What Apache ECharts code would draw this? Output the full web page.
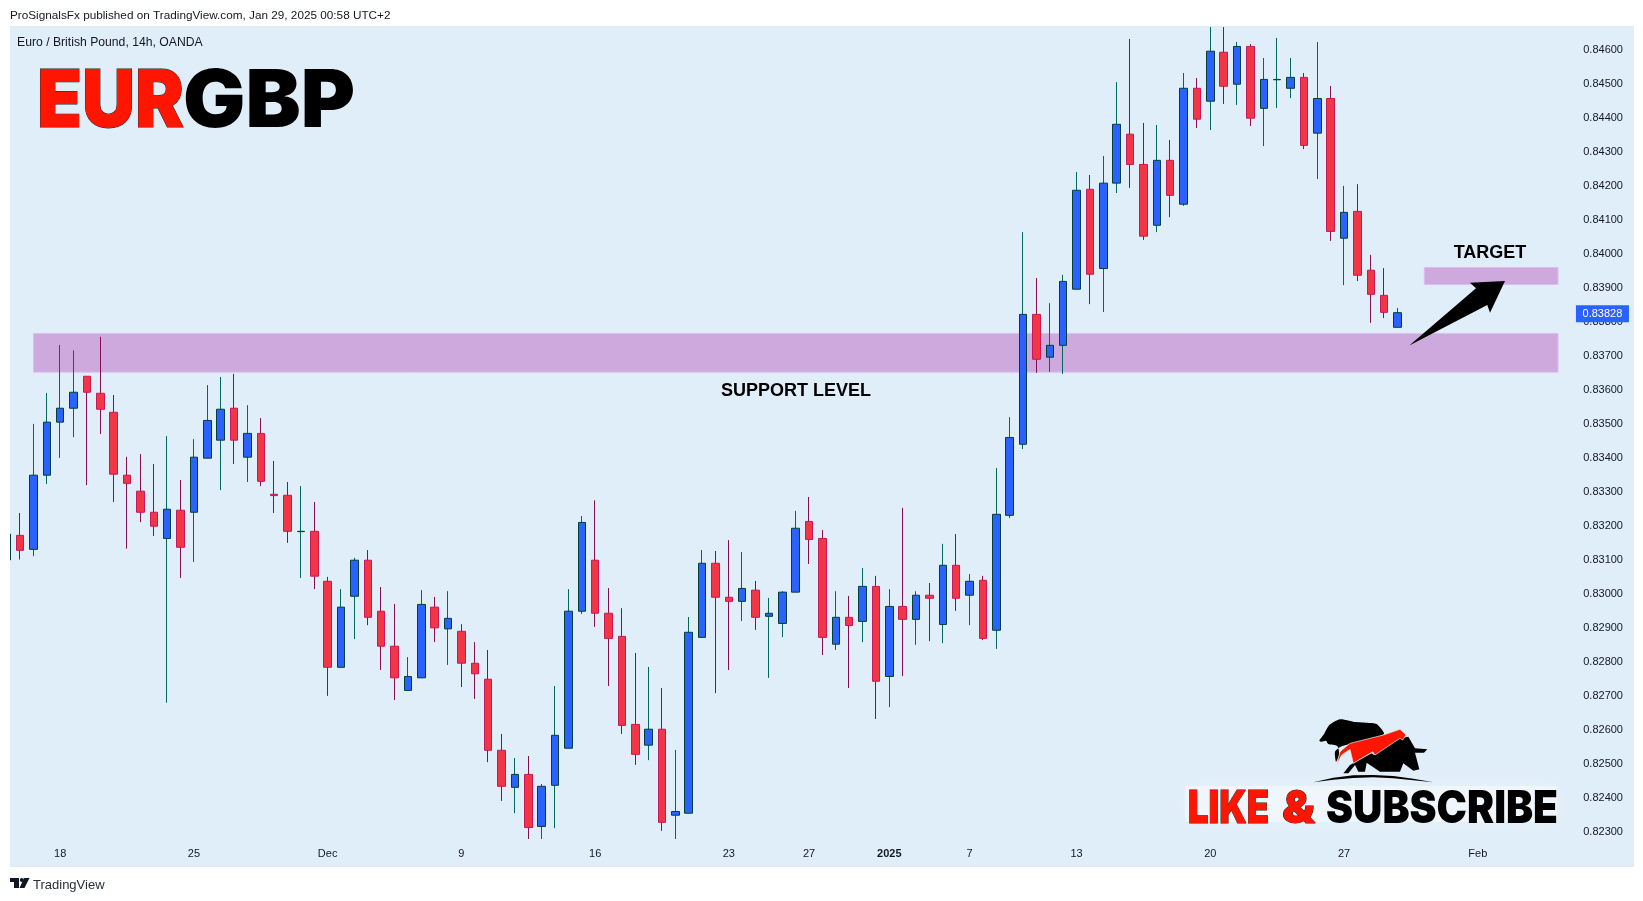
<!DOCTYPE html>
<html><head><meta charset="utf-8">
<style>html,body{margin:0;padding:0;background:#fff}#c{width:1643px;height:901px}</style>
<script src="https://cdn.jsdelivr.net/npm/echarts@6/dist/echarts.min.js"></script>
</head><body><div id="c"></div>
<script>
const openPrices=[.83101,
.83173,.83132,.83350,.83506,.83547,.83641,.83591,.83535,.83350,.83303,
.83241,.83164,.83247,.83241,.83400,.83453,.83547,.83403,.83473,.83294,
.83291,.83184,.83185,.83038,.82785,.82994,.83100,.82950,.82847,.82717,
.82754,.82962,.82898,.82891,.82797,.82750,.82541,.82432,.82470,.82317,
.82438,.82547,.82950,.83100,.82944,.82876,.82617,.82556,.82603,.82350,
.82356,.82873,.83091,.82991,.82979,.83012,.82935,.82914,.83006,.83214,
.83164,.82853,.82932,.82920,.83023,.82758,.82964,.82926,.82997,.82911,
.83085,.82997,.83041,.82894,.83232,.83441,.83823,.83697,.83732,.83897,
.84191,.83958,.84209,.84353,.84264,.84085,.84276,.84147,.84488,.84450,
.84594,.84500,.84611,.84429,.84513,.84488,.84520,.84356,.84458,.84047,
.84126,.83953,.83879,.83785];
const closePrices=[.83177,
.83129,.83350,.83506,.83547,.83594,.83594,.83544,.83353,.83326,.83241,
.83200,.83250,.83138,.83403,.83511,.83544,.83453,.83473,.83332,.83290,
.83185,.83185,.83053,.82785,.82962,.83100,.82932,.82847,.82754,.82758,
.82970,.82901,.82929,.82797,.82766,.82541,.82435,.82470,.82314,.82435,
.82585,.82950,.83211,.82944,.82870,.82614,.82529,.82603,.82329,.82361,
.82888,.83091,.82991,.82979,.83017,.82932,.82944,.83006,.83194,.83161,
.82873,.82932,.82908,.83023,.82744,.82964,.82926,.82997,.82988,.83085,
.82988,.83038,.82870,.83235,.83461,.83823,.83691,.83732,.83920,.84188,
.83941,.84209,.84382,.84264,.84053,.84276,.84173,.84488,.84397,.84597,
.84494,.84611,.84400,.84514,.84514,.84520,.84320,.84458,.84067,.84123,
.83938,.83882,.83829,.83828];
const highPrices=[.83177,
.83239,.83501,.83592,.83733,.83717,.83641,.83757,.83586,.83404,.83412,
.83383,.83465,.83336,.83456,.83615,.83639,.83648,.83556,.83518,.83392,
.83330,.83318,.83271,.83051,.83015,.83107,.83130,.83021,.82971,.82815,
.83012,.82992,.83009,.82912,.82859,.82836,.82589,.82518,.82524,.82442,
.82730,.83015,.83230,.83276,.83018,.82959,.82827,.82786,.82724,.82542,
.82933,.83130,.83127,.83159,.83124,.83039,.82989,.83009,.83245,.83286,
.83189,.83009,.82995,.83077,.83054,.83015,.83254,.83009,.83033,.83148,
.83177,.83059,.83054,.83371,.83521,.84065,.83930,.83856,.83939,.84242,
.84233,.84289,.84506,.84633,.84386,.84380,.84336,.84533,.84518,.84668,
.84668,.84624,.84618,.84577,.84636,.84577,.84533,.84624,.84495,.84201,
.84206,.83998,.83959,.83842];
const lowPrices=[.83101,
.83102,.83112,.83324,.83401,.83462,.83321,.83471,.83271,.83134,.83212,
.83171,.82681,.83048,.83095,.83400,.83306,.83383,.83330,.83318,.83239,
.83151,.83048,.83015,.82701,.82785,.82868,.82909,.82777,.82689,.82717,
.82754,.82859,.82792,.82727,.82692,.82506,.82392,.82356,.82280,.82280,
.82312,.82547,.82942,.82904,.82730,.82589,.82498,.82512,.82304,.82280,
.82356,.82873,.82709,.82777,.82921,.82895,.82754,.82874,.83006,.83089,
.82821,.82836,.82724,.82859,.82633,.82668,.82759,.82851,.82862,.82856,
.82951,.82909,.82865,.82839,.83224,.83427,.83651,.83654,.83648,.83897,
.83853,.83830,.84180,.84195,.84042,.84065,.84109,.84142,.84371,.84365,
.84442,.84439,.84377,.84318,.84430,.84459,.84309,.84221,.84039,.83909,
.83921,.83798,.83812,.83785];
const timeTickSlots=[4,14,24,34,44,54,60,66,72,80,90,100,110];
const timeTickLabels=['18','25','Dec','9','16','23','27','2025','7','13','20','27','Feb'];
const priceTicks=[.823,.824,.825,.826,.827,.828,.829,.83,.831,.832,.833,.834,.835,.836,.837,.838,.839,.84,.841,.842,.843,.844,.845,.846];
const lastPrice=0.83828;
const supportZone=[0.83767,0.83653];
const targetZone=[0.83961,0.83911];

const SLOTS=122, BAND=13.38;
const categories=new Array(SLOTS).fill('');
timeTickSlots.forEach((s,i)=>categories[s]=timeTickLabels[i]);
const wickData=openPrices.map((o,i)=>[o,closePrices[i],lowPrices[i],highPrices[i]]);
const bodyData=openPrices.map((o,i)=>{const c=closePrices[i];return [o,c,Math.min(o,c),Math.max(o,c)];});
const INK='#131722', UI='"Liberation Sans",Arial,sans-serif';

function txt(text,x,y,font,fill,align,extra){
  return {type:'text',z:50,silent:true,style:Object.assign({text,x,y,font,fill,align:align||'left',verticalAlign:'middle'},extra||{})};
}
const measure=document.createElement('canvas').getContext('2d');
function fitted(text,left,width,cy,font,fill,extra){
  measure.font=font;const w=measure.measureText(text).width;
  return {type:'text',z:50,silent:true,x:left,y:cy,scaleX:width/w,
    style:Object.assign({text,x:0,y:0,font,fill,align:'left',verticalAlign:'middle'},extra||{})};
}
const HEAVY='900 80px Inter,Roboto,sans-serif', HEAVY2='900 45px Inter,Roboto,sans-serif';
const chart=echarts.init(document.getElementById('c'),null,{renderer:'canvas',width:1643,height:901});
chart.setOption({
  animation:false,backgroundColor:'#ffffff',
  grid:{left:-0.77,top:27,width:SLOTS*BAND,height:813,containLabel:false},
  xAxis:{type:'category',data:categories,boundaryGap:true,
    axisLine:{show:false},axisTick:{show:false},splitLine:{show:false},
    axisLabel:{show:true,interval:0,margin:8,fontFamily:UI,fontSize:11,color:INK,
      formatter:v=>v==='2025'?'{b|2025}':v,rich:{b:{fontWeight:'bold',fontFamily:UI,fontSize:11,color:INK}}}},
  yAxis:{type:'value',position:'right',min:0.822771,max:0.846682,scale:true,
    axisLine:{show:false},axisTick:{show:false},splitLine:{show:false},
    axisLabel:{inside:true,margin:8.6,fontFamily:UI,fontSize:11,color:INK,align:'right',padding:[2,0,0,0],
      customValues:priceTicks,formatter:v=>v.toFixed(5)}},
  series:[
    {type:'line',data:[],z:1,silent:true,markArea:{silent:true,z:1,
      itemStyle:{color:'#cda9de',borderColor:'#dcbff0',borderWidth:1},
      data:[[{coord:[2,supportZone[0]]},{coord:[116,supportZone[1]]}],
            [{coord:[106,targetZone[0]]},{coord:[116,targetZone[1]]}]]}},
    {type:'candlestick',z:3,silent:true,barWidth:1,data:wickData,
      itemStyle:{color:'#00695c',color0:'#880e4f',borderColor:'#00695c',borderColor0:'#880e4f',borderWidth:1}},
    {type:'candlestick',z:4,silent:true,barWidth:8,data:bodyData,
      itemStyle:{color:'#2962ff',color0:'#f23645',borderColor:'#00403a',borderColor0:'#c8185a',borderWidth:1},
      markPoint:{silent:true,symbol:'rect',symbolSize:[53,17],symbolOffset:[4.3,1],
        itemStyle:{color:'#2962ff'},
        label:{show:true,position:'inside',color:'#fff',fontFamily:UI,fontSize:11,formatter:()=>lastPrice.toFixed(5)},
        data:[{coord:[119,lastPrice]}]}}
  ],
  graphic:{elements:[
    {type:'rect',z:-10,silent:true,shape:{x:9.5,y:26.5,width:1624,height:840},style:{fill:'#e0eef9',stroke:'#e6e8ec',lineWidth:1}},
    {type:'rect',z:60,silent:true,shape:{x:0,y:0,width:10,height:901},style:{fill:'#fff'}},
    txt('ProSignalsFx published on TradingView.com, Jan 29, 2025 00:58 UTC+2',10,15.5,'11.75px '+UI,INK),
    txt('Euro / British Pound, 14h, OANDA',17,42.5,'12.2px '+UI,INK),
    txt('TradingView',33,885.5,'13px '+UI,'#2a2e39'),
    {type:'polygon',z:61,silent:true,shape:{points:[[10,878],[19,878],[19,888],[14,888],[14,882],[10,882]]},style:{fill:'#131722'}},
    {type:'polygon',z:61,silent:true,shape:{points:[[24,878],[29.5,878],[24.5,888],[19.5,888]]},style:{fill:'#131722'}},
    {type:'circle',z:61,silent:true,shape:{cx:21.8,cy:880,r:2},style:{fill:'#131722'}},
    fitted('EUR',37,147,102.5,HEAVY,'#ff1500',{stroke:'#222',lineWidth:1,shadowColor:'#fff',shadowBlur:8}),
    fitted('GBP',183,172,102.5,HEAVY,'#000',{shadowColor:'#fff',shadowBlur:8}),
    txt('SUPPORT LEVEL',796,391,'bold 18px '+UI,'#000','center'),
    txt('TARGET',1490,253,'bold 18px '+UI,'#000','center'),
    {type:'polygon',z:50,silent:true,shape:{points:[[1409.3,345.5],[1476,288.3],[1470,282.7],[1505,281],[1490,312.7],[1487.3,305]]},style:{fill:'#000'}},
    {type:'rect',z:40,silent:true,shape:{x:1185,y:786,width:372,height:36},style:{fill:'rgba(255,255,255,0.4)',shadowColor:'rgba(255,255,255,0.7)',shadowBlur:24}},
    fitted('LIKE',1188,81,809,HEAVY2,'#ff1500',{stroke:'#222',lineWidth:1}),
    fitted('&',1282,33,809,HEAVY2,'#ff1500',{stroke:'#222',lineWidth:1}),
    fitted('SUBSCRIBE',1326,232,809,HEAVY2,'#000'),
    {type:'group',z:50,silent:true,x:1300,y:710,scaleX:1/3,scaleY:1/3,children:[
      {type:'polygon',z:50,shape:{smooth:0.2,points:[[58,92],[72,72],[88,45],[120,28],[160,35],[200,38],[230,42],[252,72],[160,100],[122,110],[105,125],[108,155],[118,135],[112,108],[85,102],[78,92],[65,95]]},style:{fill:'#000'}},
      {type:'polygon',z:50,shape:{points:[[150,165],[215,130],[222,135],[300,85],[325,80],[345,115],[382,118],[372,128],[345,128],[358,178],[340,182],[310,160],[300,185],[250,185],[240,185],[200,158],[195,185],[175,185],[165,165],[145,190],[130,190]]},style:{fill:'#000'}},
      {type:'polygon',z:51,shape:{points:[[110,165],[120,125],[150,100],[250,75],[300,58],[318,75],[308,90],[300,85],[225,135],[218,125],[160,160],[150,118],[125,135]]},style:{fill:'#ff1500',stroke:'#e8eef4',lineWidth:2}},
      {type:'polygon',z:50,shape:{points:[[40,217],[100,203],[160,196],[220,195],[280,198],[340,206],[400,217],[340,211],[280,205],[220,202],[160,204],[100,209]]},style:{fill:'#000'}}
    ]}
  ]}
});
</script></body></html>
